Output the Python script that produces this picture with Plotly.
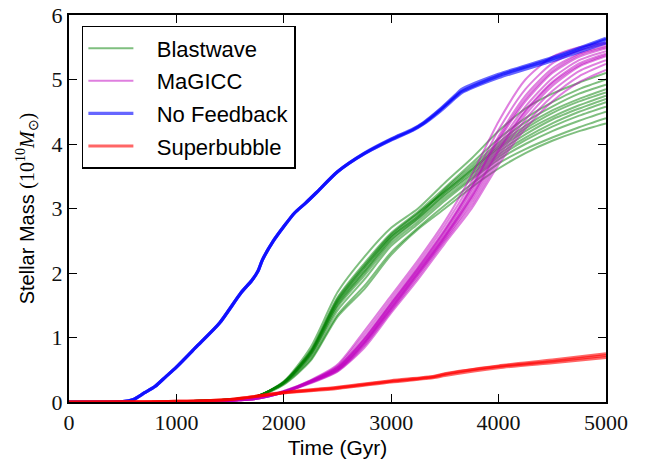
import plotly.graph_objects as go

# ---------------- data ----------------
T = [0, 500, 1000, 1250, 1500, 1750, 2000, 2250, 2500, 2750, 3000, 3250, 3500,
     3750, 4000, 4250, 4500, 4750, 5000]

blastwave = [
    [0, 0, 0.005, 0.02, 0.04, 0.09, 0.32, 0.85, 1.70, 2.25, 2.70, 3.00, 3.40, 3.78, 4.20, 4.55, 4.78, 4.95, 5.10],
    [0, 0, 0.005, 0.02, 0.04, 0.09, 0.31, 0.80, 1.62, 2.15, 2.62, 2.95, 3.32, 3.70, 4.08, 4.40, 4.65, 4.85, 5.00],
    [0, 0, 0.005, 0.02, 0.04, 0.09, 0.31, 0.78, 1.58, 2.10, 2.58, 2.92, 3.28, 3.62, 3.98, 4.28, 4.52, 4.70, 4.85],
    [0, 0, 0.005, 0.02, 0.04, 0.09, 0.30, 0.76, 1.55, 2.05, 2.55, 2.88, 3.25, 3.58, 3.92, 4.20, 4.42, 4.60, 4.75],
    [0, 0, 0.005, 0.02, 0.04, 0.09, 0.30, 0.75, 1.52, 2.02, 2.52, 2.85, 3.22, 3.55, 3.88, 4.15, 4.38, 4.55, 4.70],
    [0, 0, 0.005, 0.02, 0.04, 0.09, 0.30, 0.74, 1.50, 2.00, 2.50, 2.84, 3.20, 3.52, 3.84, 4.10, 4.32, 4.50, 4.65],
    [0, 0, 0.005, 0.02, 0.04, 0.09, 0.29, 0.72, 1.47, 1.96, 2.46, 2.80, 3.16, 3.48, 3.80, 4.06, 4.27, 4.44, 4.58],
    [0, 0, 0.005, 0.02, 0.04, 0.09, 0.29, 0.70, 1.42, 1.90, 2.42, 2.76, 3.12, 3.45, 3.76, 4.00, 4.20, 4.36, 4.50],
    [0, 0, 0.005, 0.02, 0.04, 0.08, 0.28, 0.66, 1.35, 1.80, 2.32, 2.70, 3.05, 3.38, 3.70, 3.92, 4.10, 4.26, 4.40],
    [0, 0, 0.005, 0.02, 0.04, 0.08, 0.27, 0.64, 1.32, 1.75, 2.28, 2.68, 3.00, 3.33, 3.62, 3.86, 4.05, 4.20, 4.32],
    [0, 0, 0.005, 0.02, 0.04, 0.09, 0.30, 0.77, 1.56, 2.08, 2.56, 2.88, 3.30, 3.66, 4.02, 4.34, 4.58, 4.78, 4.92],
    [0, 0, 0.005, 0.02, 0.04, 0.09, 0.31, 0.79, 1.60, 2.12, 2.60, 2.93, 3.26, 3.60, 3.95, 4.24, 4.48, 4.66, 4.80],
]

magicc = [
    [0, 0, 0, 0.005, 0.02, 0.06, 0.17, 0.34, 0.58, 1.10, 1.65, 2.20, 2.80, 3.52, 4.35, 5.00, 5.35, 5.50, 5.57],
    [0, 0, 0, 0.005, 0.02, 0.06, 0.17, 0.33, 0.56, 1.05, 1.60, 2.15, 2.74, 3.42, 4.22, 4.85, 5.25, 5.45, 5.55],
    [0, 0, 0, 0.005, 0.02, 0.06, 0.16, 0.33, 0.54, 1.00, 1.55, 2.10, 2.68, 3.35, 4.12, 4.75, 5.17, 5.40, 5.52],
    [0, 0, 0, 0.005, 0.02, 0.06, 0.16, 0.32, 0.53, 0.97, 1.52, 2.06, 2.64, 3.30, 4.05, 4.66, 5.10, 5.35, 5.48],
    [0, 0, 0, 0.005, 0.02, 0.06, 0.16, 0.32, 0.52, 0.95, 1.50, 2.04, 2.60, 3.25, 3.98, 4.58, 5.02, 5.30, 5.44],
    [0, 0, 0, 0.005, 0.02, 0.06, 0.16, 0.31, 0.51, 0.93, 1.48, 2.02, 2.58, 3.20, 3.92, 4.52, 4.96, 5.25, 5.40],
    [0, 0, 0, 0.005, 0.02, 0.05, 0.15, 0.31, 0.50, 0.91, 1.45, 1.99, 2.55, 3.15, 3.86, 4.45, 4.90, 5.20, 5.36],
    [0, 0, 0, 0.005, 0.02, 0.05, 0.15, 0.30, 0.49, 0.89, 1.43, 1.97, 2.52, 3.10, 3.80, 4.38, 4.82, 5.13, 5.30],
    [0, 0, 0, 0.005, 0.02, 0.05, 0.15, 0.30, 0.48, 0.87, 1.41, 1.94, 2.50, 3.05, 3.74, 4.30, 4.74, 5.05, 5.24],
    [0, 0, 0, 0.005, 0.02, 0.05, 0.15, 0.29, 0.47, 0.84, 1.38, 1.90, 2.46, 3.00, 3.68, 4.24, 4.66, 4.96, 5.15],
    [0, 0, 0, 0.005, 0.02, 0.06, 0.16, 0.32, 0.54, 0.98, 1.53, 2.08, 2.66, 3.33, 4.08, 4.70, 5.13, 5.38, 5.50],
    [0, 0, 0, 0.005, 0.02, 0.05, 0.15, 0.31, 0.50, 0.92, 1.46, 2.00, 2.56, 3.18, 3.90, 4.50, 4.94, 5.22, 5.38],
]

T_blue = [0, 300, 500, 600, 700, 800, 900, 1000, 1200, 1400, 1600, 1700, 1760, 1800, 1900,
          2000, 2100, 2200, 2300, 2500, 2750, 3000, 3200, 3300, 3450, 3600, 3650, 4000, 4500, 5000]
no_feedback = [
    [0, 0, 0.005, 0.04, 0.14, 0.24, 0.39, 0.54, 0.88, 1.22, 1.69, 1.88, 2.03, 2.20, 2.49,
     2.72, 2.93, 3.08, 3.24, 3.57, 3.85, 4.07, 4.22, 4.32, 4.52, 4.74, 4.81, 5.06, 5.32, 5.62],
    [0, 0, 0.005, 0.04, 0.14, 0.24, 0.39, 0.54, 0.88, 1.22, 1.69, 1.88, 2.03, 2.20, 2.49,
     2.72, 2.93, 3.08, 3.24, 3.57, 3.85, 4.06, 4.21, 4.31, 4.50, 4.72, 4.79, 5.03, 5.29, 5.57],
    [0, 0, 0.005, 0.04, 0.14, 0.24, 0.39, 0.54, 0.88, 1.22, 1.69, 1.88, 2.03, 2.20, 2.49,
     2.72, 2.93, 3.08, 3.24, 3.57, 3.86, 4.08, 4.23, 4.33, 4.53, 4.76, 4.84, 5.08, 5.34, 5.64],
]

T_red = [0, 500, 1000, 1500, 2000, 2500, 3000, 3400, 3500, 4000, 4500, 5000]
superbubble = [
    [0, 0.002, 0.01, 0.04, 0.145, 0.22, 0.32, 0.39, 0.43, 0.55, 0.63, 0.72],
    [0, 0.002, 0.01, 0.04, 0.140, 0.21, 0.31, 0.38, 0.41, 0.53, 0.61, 0.69],
    [0, 0.002, 0.01, 0.04, 0.150, 0.23, 0.33, 0.40, 0.44, 0.56, 0.65, 0.75],
]

names = ["Blastwave", "MaGICC", "No Feedback", "Superbubble"]
colors = ["rgba(0,128,0,0.5)", "rgba(191,0,191,0.5)", "rgba(0,0,255,0.6)", "rgba(255,0,0,0.6)"]
widths = [2.0, 2.0, 3.2, 3.0]
x_ticks = [0, 1000, 2000, 3000, 4000, 5000]
y_ticks = [0, 1, 2, 3, 4, 5, 6]

# ---------------- figure ----------------
fig = go.Figure()
groups = [(T, blastwave), (T, magicc), (T_blue, no_feedback), (T_red, superbubble)]
pad = "\u00a0\u00a0\u00a0"
for (tx, members), name, col, w in zip(groups, names, colors, widths):
    for i, ys in enumerate(members):
        fig.add_trace(go.Scatter(
            x=tx, y=ys, mode="lines", name=pad + name, legendgroup=name,
            showlegend=(i == 0),
            line=dict(color=col, width=w, shape="spline", smoothing=0.7),
        ))

serif = "Liberation Serif"
sans = "Liberation Sans"
axis_common = dict(
    showline=True, linecolor="black", linewidth=2, mirror="allticks",
    ticks="inside", ticklen=8, tickwidth=1.2, tickcolor="black",
    showgrid=False, zeroline=False, automargin=False,
    tickfont=dict(family=serif, size=22, color="#111"),
)
fig.update_xaxes(range=[0, 5000], tickvals=x_ticks, **axis_common,
                 title=dict(text="Time (Gyr)", font=dict(family=sans, size=21, color="black"), standoff=6))
fig.update_yaxes(range=[0, 6], tickvals=y_ticks, **axis_common,
                 title=dict(text="Stellar Mass <span style='font-family:Liberation Serif'>(10<sup>10</sup><i>M</i><sub>⊙</sub>)</span>",
                            font=dict(family=sans, size=20, color="black"), standoff=12))

fig.update_layout(
    width=654, height=466,
    margin=dict(l=69, r=48, t=15, b=64),
    plot_bgcolor="white", paper_bgcolor="white",
    legend=dict(x=0.024, y=0.972, xanchor="left", yanchor="top",
                bgcolor="white", bordercolor="black", borderwidth=1.5,
                font=dict(family=sans, size=22, color="black"),
                traceorder="grouped", tracegroupgap=1, itemwidth=45),
)

fig.write_html("out.html")
